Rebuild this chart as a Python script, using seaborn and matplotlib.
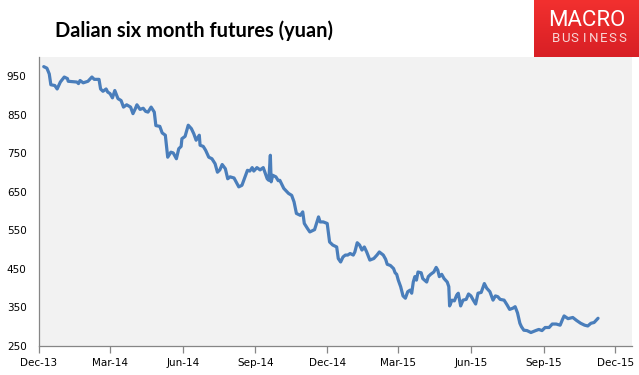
import matplotlib
matplotlib.use("Agg")
import matplotlib.pyplot as plt
import numpy as np
import pandas as pd
import seaborn as sns
from matplotlib.colors import LinearSegmentedColormap

# ---- data ----
start_date = "2013-12-01"
day_offsets = [6, 10, 13, 15, 20, 23, 27, 32, 36, 37, 48, 50, 52, 56, 62, 67, 70, 76, 78, 81,
               85, 87, 90, 93, 96, 100, 104, 107, 111, 116, 119, 122, 124, 128, 132, 135, 138, 142, 146, 148,
               153, 156, 160, 163, 167, 170, 174, 177, 180, 181, 185, 189, 193, 196, 199, 203, 204, 208, 211, 215,
               219, 223, 226, 229, 232, 236, 239, 242, 247, 253, 257, 260, 264, 267, 270, 272, 276, 280, 284, 289,
               291, 293, 294, 296, 300, 303, 305, 310, 316, 320, 323, 326, 331, 334, 336, 340, 343, 349, 352, 354,
               356, 360, 365, 368, 372, 377, 379, 382, 385, 388, 391, 394, 398, 400, 403, 406, 409, 412, 415, 419,
               424, 428, 431, 436, 439, 441, 445, 449, 451, 453, 455, 458, 461, 464, 467, 470, 472, 474, 476, 478,
               480, 484, 486, 491, 493, 496, 500, 503, 505, 507, 510, 513, 517, 519, 520, 523, 526, 529, 531, 534,
               537, 541, 544, 547, 550, 553, 556, 560, 564, 567, 571, 575, 578, 581, 584, 589, 593, 596, 600, 603,
               606, 609, 611, 614, 618, 623, 629, 633, 637, 641, 646, 650, 655, 660, 663, 665, 670, 676, 681, 686,
               691, 695, 699, 703, 708]
prices = [975, 971, 956, 928, 926, 917, 935, 948, 944, 937, 935, 931, 939, 933, 937, 948, 942, 942, 917, 911,
          917, 909, 905, 894, 913, 892, 887, 870, 876, 870, 853, 866, 876, 864, 867, 859, 857, 870, 857, 822,
          820, 803, 797, 740, 753, 751, 736, 762, 768, 788, 794, 823, 814, 801, 784, 797, 771, 768, 758, 740,
          736, 723, 701, 707, 721, 710, 684, 689, 686, 663, 667, 684, 706, 704, 713, 704, 713, 707, 713, 684,
          680, 745, 676, 693, 689, 679, 680, 659, 646, 641, 624, 594, 589, 598, 568, 555, 546, 552, 572, 585,
          572, 572, 568, 520, 512, 507, 477, 468, 481, 486, 486, 490, 486, 494, 518, 512, 499, 507, 494, 473,
          477, 486, 494, 486, 475, 462, 459, 451, 440, 436, 421, 404, 380, 374, 391, 395, 387, 416, 430, 421,
          442, 440, 425, 416, 430, 436, 442, 454, 447, 430, 436, 425, 416, 404, 354, 369, 367, 382, 387, 354,
          369, 371, 385, 380, 369, 359, 387, 389, 412, 400, 391, 369, 380, 378, 371, 369, 356, 345, 348, 352,
          336, 309, 300, 291, 290, 285, 290, 293, 290, 298, 298, 307, 307, 304, 319, 328, 321, 324, 316, 309,
          304, 302, 309, 311, 322]
tick_dates = ["2013-12-01", "2014-03-01", "2014-06-01", "2014-09-01", "2014-12-01",
              "2015-03-01", "2015-06-01", "2015-09-01", "2015-12-01"]
tick_labels = ["Dec-13", "Mar-14", "Jun-14", "Sep-14", "Dec-14",
               "Mar-15", "Jun-15", "Sep-15", "Dec-15"]
y_ticks = [250, 350, 450, 550, 650, 750, 850, 950]
title = "Dalian six month futures (yuan)"
logo_top = "MACRO"
logo_bottom = "BUSINESS"

df = pd.DataFrame({
    "date": pd.Timestamp(start_date) + pd.to_timedelta(day_offsets, unit="D"),
    "price": prices,
})

sns.set_theme(style="white")
plt.rcParams["font.family"] = ["DejaVu Sans"]

W, H = 639, 375
fig = plt.figure(figsize=(W / 100, H / 100), dpi=100)
fig.patch.set_facecolor("white")

ax = fig.add_axes([39 / W, 1 - 346 / H, (632 - 39) / W, (346 - 57) / H])
ax.set_facecolor("#F2F2F2")

sns.lineplot(data=df, x="date", y="price", ax=ax, color="#4A7EBB", linewidth=2.3)

ax.set_xlim(pd.Timestamp("2013-12-01"), pd.Timestamp("2015-12-22"))
ax.set_ylim(250, 1000)
ax.set_xticks(pd.to_datetime(tick_dates))
ax.set_xticklabels(tick_labels)
ax.set_yticks(y_ticks)
ax.set_xlabel("")
ax.set_ylabel("")

for s in ["top", "right"]:
    ax.spines[s].set_visible(False)
for s in ["left", "bottom"]:
    ax.spines[s].set_color("#868686")
    ax.spines[s].set_linewidth(0.9)

ax.tick_params(axis="x", direction="out", length=5, width=0.9, color="#868686",
               labelsize=7.5, labelcolor="#000000", pad=4, bottom=True)
ax.tick_params(axis="y", length=0, labelsize=7.5, labelcolor="#000000", pad=9)
ax.grid(False)

# title
fig.text(55 / W, 1 - 31 / H, title, fontsize=14.4, fontweight="bold",
         family=["Lato", "DejaVu Sans"], va="center", ha="left", color="#000000")

# logo with vertical red gradient
lax = fig.add_axes([534 / W, 1 - 57 / H, (W - 534) / W, 57 / H])
cmap = LinearSegmentedColormap.from_list("red", ["#F2302F", "#D81F25"])
lax.imshow(np.linspace(0, 1, 64).reshape(-1, 1), aspect="auto", cmap=cmap,
           extent=[0, 1, 0, 1], origin="upper")
lax.set_xlim(0, 1)
lax.set_ylim(0, 1)
lax.axis("off")
lax.text(0.5, 1 - 20 / 57, logo_top, fontsize=16, color="white", ha="center", va="center",
         family=["Roboto", "DejaVu Sans"], fontweight="normal", transform=lax.transAxes)
n = len(logo_bottom)
x0, x1 = (551 - 534) / 105, (627 - 534) / 105
for i, ch in enumerate(logo_bottom):
    xi = x0 + (x1 - x0) * (i + 0.5) / n
    lax.text(xi, 1 - 38.5 / 57, ch, fontsize=9.5, color="#F8D6D6", ha="center", va="center",
             family=["Roboto", "DejaVu Sans"], transform=lax.transAxes)

fig.savefig("out.png", dpi=100, facecolor="white")
